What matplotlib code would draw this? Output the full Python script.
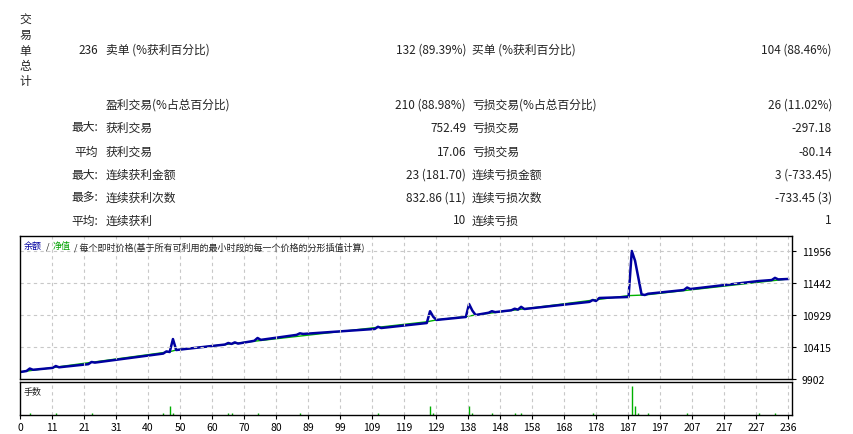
import matplotlib
matplotlib.use('Agg')
import matplotlib.pyplot as plt

plt.rcParams['font.family'] = ['Noto Sans CJK SC', 'DejaVu Sans']

W, H = 854, 435

# balance curve vertices (trade number, value)
balance_x = [0, 2, 3, 4, 10, 11, 12, 21, 22, 23, 44, 45, 46, 47, 48, 63, 64, 65, 66, 67, 72, 73, 74,
             85, 86, 87, 109, 110, 111, 125, 126, 127, 128, 137, 138, 139, 140, 144, 145, 146,
             151, 152, 153, 154, 155, 175, 176, 177, 178, 187, 188, 189, 191, 192, 193, 204, 205,
             206, 227, 231, 232, 233, 236]
balance_y = [10014, 10030, 10070, 10050, 10080, 10110, 10090, 10140, 10175, 10165, 10310, 10345,
             10335, 10543, 10367, 10455, 10480, 10465, 10490, 10470, 10515, 10560, 10530,
             10610, 10635, 10625, 10705, 10740, 10720, 10800, 10990, 10900, 10850, 10897, 11105,
             11000, 10929, 10965, 10990, 10975, 11005, 11030, 11015, 11060, 11025, 11140, 11170,
             11154, 11202, 11218, 11956, 11800, 11260, 11250, 11270, 11330, 11370, 11346,
             11474, 11490, 11525, 11500, 11507]
# equity stays flat through the spikes
equity_x = [0, 46, 48, 125, 128, 137, 140, 187, 192, 236]
equity_y = [10014, 10340, 10367, 10820, 10850, 10905, 10929, 11240, 11250, 11507]

# lot sizes per trade
lot_x = [3, 11, 22, 44, 46, 47, 64, 65, 73, 86, 110, 126, 127, 138, 139, 145, 152, 154, 176,
         188, 189, 190, 193, 205, 227, 232]
lot_v = [0.2, 0.2, 0.2, 0.2, 0.9, 0.2, 0.2, 0.2, 0.2, 0.2, 0.2, 0.9, 0.2, 0.9, 0.2, 0.2, 0.2,
         0.2, 0.2, 3.0, 0.9, 0.2, 0.2, 0.2, 0.2, 0.2]

y_ticks = [9902, 10415, 10929, 11442, 11956]
x_labels = ['0', '11', '21', '31', '40', '50', '60', '70', '80', '89', '99', '109', '119', '129',
            '138', '148', '158', '168', '178', '187', '197', '207', '217', '227', '236']

fig = plt.figure(figsize=(W / 100, H / 100), dpi=100)
fig.patch.set_facecolor('white')


def px(x, y, s, ha='left', **kw):
    fig.text(x / W, 1 - y / H, s, ha=ha, va='center', fontsize=8.5, color='#222222', **kw)


# vertical header
for i, ch in enumerate('交易单总计'):
    px(25, 20 + i * 15.5, ch, ha='center')

rows = [
    (50, '236', '卖单 (%获利百分比)', '132 (89.39%)', '买单 (%获利百分比)', '104 (88.46%)'),
    (105, '', '盈利交易(%占总百分比)', '210 (88.98%)', '亏损交易(%占总百分比)', '26 (11.02%)'),
    (128, '最大:', '获利交易', '752.49', '亏损交易', '-297.18'),
    (152, '平均', '获利交易', '17.06', '亏损交易', '-80.14'),
    (175, '最大:', '连续获利金额', '23 (181.70)', '连续亏损金额', '3 (-733.45)'),
    (198, '最多:', '连续获利次数', '832.86 (11)', '连续亏损次数', '-733.45 (3)'),
    (221, '平均:', '连续获利', '10', '连续亏损', '1'),
]
for y, a, b, c, d, e in rows:
    px(98, y, a, ha='right')
    px(106, y, b)
    px(466, y, c, ha='right')
    px(472, y, d)
    px(832, y, e, ha='right')

x_max = 236 * 772 / 768
grid_pos = [i * 236 / 24 for i in range(25)]
grid_kw = dict(color='#c8c8c8', linestyle=(0, (3, 3)), linewidth=0.8)

ax = fig.add_axes([20 / W, 1 - 380 / H, 772 / W, 143 / H])
ax.plot(equity_x, equity_y, color='#00b000', linewidth=1.0)
ax.plot(balance_x, balance_y, color='#0000a0', linewidth=1.8)
ax.set_xlim(0, x_max)
ax.set_ylim(9902, 9902 + (11956 - 9902) * 143 / 128)
ax.set_yticks(y_ticks)
ax.yaxis.tick_right()
ax.tick_params(axis='y', labelsize=7.5, length=3, pad=4)
ax.set_xticks(grid_pos)
ax.tick_params(axis='x', length=0, labelbottom=False)
for v in y_ticks[1:]:
    ax.axhline(v, **grid_kw)
for v in grid_pos[1:]:
    ax.axvline(v, **grid_kw)
for s in ax.spines.values():
    s.set_linewidth(1.0)
ax.text(0.005, 0.965, '余额', transform=ax.transAxes, fontsize=6.5, color='#0000a0', va='top')
ax.text(0.033, 0.965, '/', transform=ax.transAxes, fontsize=6.5, color='#222222', va='top')
ax.text(0.042, 0.965, '净值', transform=ax.transAxes, fontsize=6.5, color='#00a000', va='top')
ax.text(0.07, 0.965, '/ 每个即时价格(基于所有可利用的最小时段的每一个价格的分形插值计算)',
        transform=ax.transAxes, fontsize=6.5, color='#222222', va='top')

ax2 = fig.add_axes([20 / W, 1 - 416 / H, 772 / W, 33 / H])
ax2.vlines(lot_x, 0, lot_v, color='#00b000', linewidth=1.0)
ax2.set_xlim(0, x_max)
ax2.set_ylim(0, 3.4)
ax2.set_yticks([])
ax2.set_xticks(grid_pos)
ax2.set_xticklabels(x_labels)
ax2.tick_params(axis='x', labelsize=7.5, length=3, pad=2)
for v in grid_pos[1:]:
    ax2.axvline(v, **grid_kw)
for s in ax2.spines.values():
    s.set_linewidth(1.0)
ax2.text(0.005, 0.85, '手数', transform=ax2.transAxes, fontsize=6.5, color='#222222', va='top')

fig.savefig('out.png', dpi=100)
